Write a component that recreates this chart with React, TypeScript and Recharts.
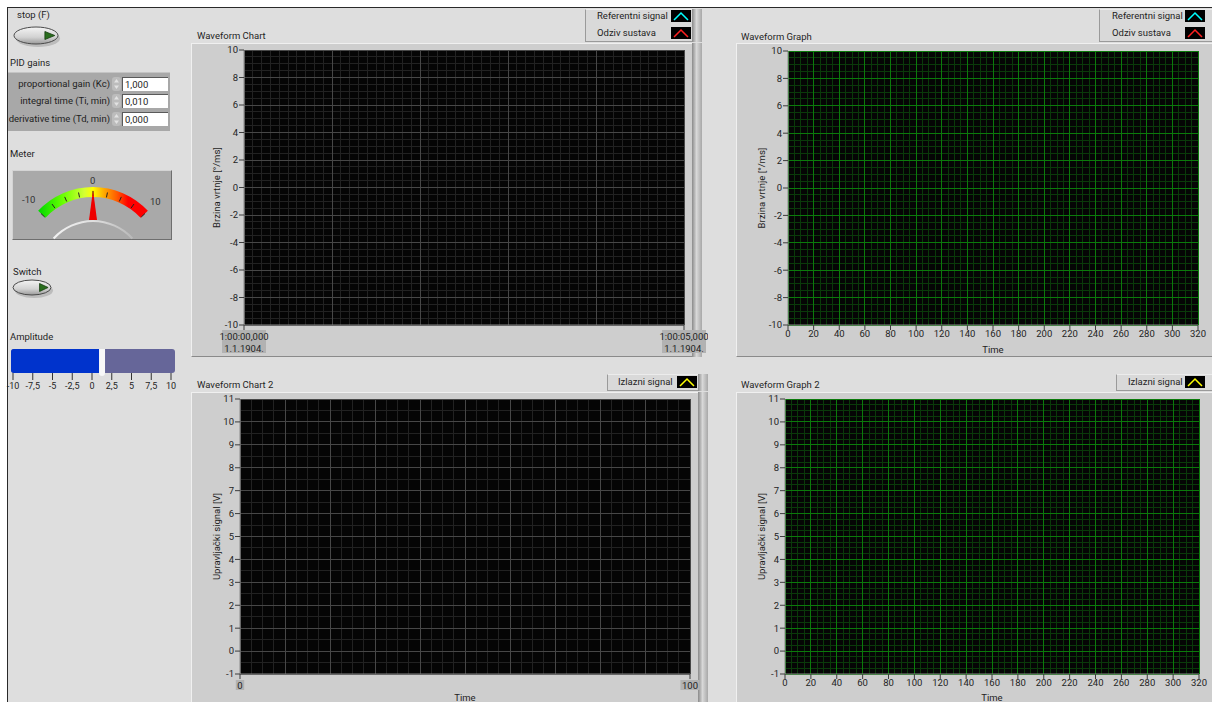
import React from 'react';
import {
  LineChart,
  Line,
  XAxis,
  YAxis,
  CartesianGrid,
  Legend,
  PieChart,
  Pie,
  BarChart,
  Bar,
  ReferenceLine,
} from 'recharts';

const FONT = 'Roboto, "Noto Sans", Arial, sans-serif';
const FS = 9.5;
const TEXT = '#1e1e1e';
const PANEL = '#dedede';
const FRAME = '#cecece';
const PLOT_BG = '#050505';
const AXIS = '#3c3c3c';

// ---- Waveform Chart (strip chart, 5 s window) ----
const chartTimeTicks = [0, 5];
const chartTimeLabels = [
  ['1:00:00,000', '1.1.1904.'],
  ['1:00:05,000', '1.1.1904.'],
];
const chartMajorTime = [0, 1, 2, 3, 4, 5];
const speedTicks = [-10, -8, -6, -4, -2, 0, 2, 4, 6, 8, 10];

// ---- Waveform Graph ----
const graphTimeTicks = [0, 20, 40, 60, 80, 100, 120, 140, 160, 180, 200, 220, 240, 260, 280, 300, 320];

// ---- Waveform Chart 2 ----
const chart2TimeTicks = [0, 100];
const chart2MajorTime = [0, 10, 20, 30, 40, 50, 60, 70, 80, 90, 100];
const voltTicks = [-1, 0, 1, 2, 3, 4, 5, 6, 7, 8, 9, 10, 11];

// ---- series: nothing acquired yet, all plots are empty ----
const referentniSignal: number[] = [];
const odzivSustava: number[] = [];
const izlazniSignal: number[] = [];
const referentniGraph: number[] = [];
const odzivGraph: number[] = [];
const izlazniGraph: number[] = [];

// ---- front panel controls ----
const pidLabels = ['proportional gain (Kc)', 'integral time (Ti, min)', 'derivative time (Td, min)'];
const pidValues = ['1,000', '0,010', '0,000'];
const meterMin = -10;
const meterMax = 10;
const meterValue = 0;
const meterTicks = [-10, -7.5, -5, -2.5, 0, 2.5, 5, 7.5, 10];
const amplitude = 1.1;
const sliderTicks = [-10, -7.5, -5, -2.5, 0, 2.5, 5, 7.5, 10];

const range = (a: number, b: number, step: number) => {
  const out: number[] = [];
  for (let v = a; v <= b + 1e-9; v += step) out.push(Math.round(v * 1000) / 1000);
  return out;
};

const buildRows = (times: number[], series: Record<string, number[]>) =>
  times.map((t, i) => {
    const row: any = { t };
    Object.keys(series).forEach((k) => {
      row[k] = series[k][i] ?? null;
    });
    return row;
  });

const comma = (v: number) => String(v).replace('.', ',');
const tickStyle = { fill: TEXT, fontSize: FS, fontFamily: FONT };

function Txt({ x, y, children, style }: any) {
  return (
    <div style={{ position: 'absolute', left: x, top: y - 6, lineHeight: '12px', whiteSpace: 'nowrap', ...style }}>
      {children}
    </div>
  );
}

const barGradient = 'linear-gradient(to right, #8a8a8a, #d8d8d8 45%, #a8a8a8)';

const makeLegend = (cfg: any) => (props: any) => {
  const items = props.payload ?? [];
  return (
    <div style={{ position: 'relative', width: cfg.width, height: cfg.height, fontFamily: FONT, fontSize: FS, color: TEXT }}>
      <div
        style={{
          position: 'absolute',
          left: 0,
          top: 0,
          width: cfg.width - (cfg.bar ? 10 : 0),
          height: cfg.height,
          background: '#d9d9d9',
          borderLeft: '1px solid #9a9a9a',
          borderBottom: '1px solid #9a9a9a',
          borderTop: '1px solid #ececec',
          boxSizing: 'border-box',
        }}
      />
      {cfg.bar && (
        <div style={{ position: 'absolute', left: cfg.width - 10, top: 0, width: 10, height: cfg.height, background: barGradient }} />
      )}
      {items.map((it: any, i: number) => (
        <React.Fragment key={it.value}>
          <div style={{ position: 'absolute', left: cfg.textX, top: cfg.rowTop + i * 17 - 6, lineHeight: '12px', whiteSpace: 'nowrap' }}>
            {it.value}
          </div>
          <svg style={{ position: 'absolute', left: cfg.swatchX, top: cfg.rowTop + i * 17 - 6 }} width={20} height={12}>
            <rect width={20} height={12} fill="#000" />
            <polyline points="3,10 10,3 17,10" stroke={it.color} fill="none" strokeWidth={1.5} />
          </svg>
        </React.Fragment>
      ))}
    </div>
  );
};

// two-line time stamp ticks of the strip chart
const StampTick = (props: any) => {
  const { x, y, payload } = props;
  const idx = chartTimeTicks.indexOf(payload.value);
  const lines = chartTimeLabels[idx] ?? ['', ''];
  return (
    <g>
      <rect x={x - 22} y={y - 1} width={44} height={23} fill="#b2b2b2" />
      <text x={x} y={y + 5} textAnchor="middle" dominantBaseline="central" fill={TEXT} fontSize={FS} fontFamily={FONT}>
        {lines[0]}
      </text>
      <text x={x} y={y + 17} textAnchor="middle" dominantBaseline="central" fill={TEXT} fontSize={FS} fontFamily={FONT}>
        {lines[1]}
      </text>
    </g>
  );
};

const BoxedTick = (props: any) => {
  const { x, y, payload } = props;
  const s = String(payload.value);
  const w = s.length * 5.4 + 3;
  return (
    <g>
      <rect x={x - w / 2} y={y} width={w} height={10} fill="#b2b2b2" />
      <text x={x} y={y + 5} textAnchor="middle" dominantBaseline="central" fill={TEXT} fontSize={FS} fontFamily={FONT}>
        {s}
      </text>
    </g>
  );
};

interface PlotProps {
  left: number;
  top: number;
  width: number;
  height: number;
  marginTop: number;
  marginRight: number;
  yAxisWidth: number;
  xAxisHeight: number;
  rows: any[];
  series: { key: string; name: string; color: string }[];
  xDomain: [number, number];
  xTicks: number[];
  xMajor: number[];
  xMinor: number[];
  yDomain: [number, number];
  yTicks: number[];
  yMinor: number[];
  majorColor: string;
  minorColor: string;
  xTick?: any;
  xLabel?: string;
  xLabelDy?: number;
  yLabel: string;
  yLabelDx: number;
  legend: any;
}

function WaveformPlot(p: PlotProps) {
  const yLabelContent = (props: any) => {
    const vb = props.viewBox;
    const cx = vb.x + p.yLabelDx;
    const cy = vb.y + vb.height / 2;
    return (
      <text x={cx} y={cy} transform={`rotate(-90 ${cx} ${cy})`} textAnchor="middle" dominantBaseline="central" fill={TEXT} fontSize={FS} fontFamily={FONT}>
        {p.yLabel}
      </text>
    );
  };
  const xLabelContent = (props: any) => {
    const vb = props.viewBox;
    return (
      <text x={vb.x + vb.width / 2} y={vb.y + (p.xLabelDy ?? 20)} textAnchor="middle" dominantBaseline="central" fill={TEXT} fontSize={FS} fontFamily={FONT}>
        {p.xLabel}
      </text>
    );
  };
  const names = p.series.map((s) => s.name);
  return (
    <div style={{ position: 'absolute', left: p.left, top: p.top }}>
      <LineChart width={p.width} height={p.height} data={p.rows} margin={{ top: p.marginTop, right: p.marginRight, bottom: 0, left: 0 }}>
        <XAxis xAxisId="minor" type="number" dataKey="t" domain={p.xDomain} allowDataOverflow ticks={p.xMinor} interval={0} hide />
        <XAxis xAxisId="major" type="number" dataKey="t" domain={p.xDomain} allowDataOverflow ticks={p.xMajor} interval={0} hide />
        <YAxis yAxisId="minor" type="number" domain={p.yDomain} allowDataOverflow ticks={p.yMinor} interval={0} hide />
        <CartesianGrid xAxisId="minor" yAxisId="minor" stroke={p.minorColor} fill={PLOT_BG} fillOpacity={1} />
        <CartesianGrid xAxisId="major" stroke={p.majorColor} />
        <XAxis
          type="number"
          dataKey="t"
          domain={p.xDomain}
          allowDataOverflow
          ticks={p.xTicks}
          interval={0}
          height={p.xAxisHeight}
          tickSize={5}
          tickMargin={p.xTick ? 1 : 0}
          tick={p.xTick ?? tickStyle}
          axisLine={{ stroke: '#8a8a8a' }}
          tickLine={{ stroke: AXIS }}
          label={p.xLabel ? xLabelContent : undefined}
        />
        <YAxis
          type="number"
          domain={p.yDomain}
          allowDataOverflow
          ticks={p.yTicks}
          interval={0}
          width={p.yAxisWidth}
          tickSize={5}
          tickMargin={1}
          tick={tickStyle}
          axisLine={{ stroke: '#8a8a8a' }}
          tickLine={{ stroke: AXIS }}
          label={yLabelContent}
        />
        {p.series.map((s) => (
          <Line key={s.key} dataKey={s.key} name={s.name} stroke={s.color} dot={false} isAnimationActive={false} />
        ))}
        <Legend
          layout="vertical"
          align="center"
          verticalAlign="middle"
          itemSorter={(item: any) => names.indexOf(item.value)}
          wrapperStyle={{ left: p.legend.left, top: p.legend.top, width: p.legend.width, height: p.legend.height }}
          content={makeLegend(p.legend)}
        />
      </LineChart>
    </div>
  );
}

function RoundButton({ x, y, rx, ry }: any) {
  const w = rx * 2 + 6;
  const h = ry * 2 + 6;
  return (
    <svg style={{ position: 'absolute', left: x, top: y }} width={w} height={h}>
      <defs>
        <linearGradient id={`btn${x}${y}`} x1="0" y1="0" x2="0" y2="1">
          <stop offset="0" stopColor="#f4f4f4" />
          <stop offset="0.6" stopColor="#d2d2d2" />
          <stop offset="1" stopColor="#9a9a9a" />
        </linearGradient>
      </defs>
      <ellipse cx={rx + 3} cy={ry + 4} rx={rx} ry={ry} fill="#9a9a9a" opacity={0.5} />
      <ellipse cx={rx + 1} cy={ry + 1} rx={rx} ry={ry} fill={`url(#btn${x}${y})`} stroke="#4a4a4a" strokeWidth={1} />
      <polygon
        points={`${rx * 1.45},${ry - 3} ${rx * 1.9},${ry + 1} ${rx * 1.45},${ry + 5}`}
        fill="#2a6e1e"
        stroke="#163d10"
        strokeWidth={0.8}
      />
    </svg>
  );
}

function Meter() {
  const cx = 81;
  const cy = 92;
  const start = 137;
  const end = 43;
  const ang = (v: number) => ((start - ((v - meterMin) / (meterMax - meterMin)) * (start - end)) * Math.PI) / 180;
  const a = ang(meterValue);
  const tip = { x: cx + 72 * Math.cos(a), y: cy - 72 * Math.sin(a) };
  const base = { x: cx + 42 * Math.cos(a), y: cy - 42 * Math.sin(a) };
  const px = Math.sin(a) * 4;
  const py = Math.cos(a) * 4;
  return (
    <>
      <div
        style={{
          position: 'absolute',
          left: 12,
          top: 170,
          width: 160,
          height: 70,
          background: '#a9a9a9',
          borderTop: '1px solid #d4d4d4',
          borderLeft: '1px solid #d4d4d4',
          borderRight: '1px solid #6e6e6e',
          borderBottom: '1px solid #6e6e6e',
          boxSizing: 'border-box',
        }}
      />
      <div style={{ position: 'absolute', left: 12, top: 170 }}>
        <PieChart width={160} height={70} margin={{ top: 0, right: 0, bottom: 0, left: 0 }}>
          <defs>
            <linearGradient id="meterGrad" x1="0" y1="0" x2="1" y2="0">
              <stop offset="0" stopColor="#00d800" />
              <stop offset="0.22" stopColor="#66ff00" />
              <stop offset="0.42" stopColor="#d4ff33" />
              <stop offset="0.5" stopColor="#ffff00" />
              <stop offset="0.6" stopColor="#ffaa00" />
              <stop offset="0.72" stopColor="#ff5a00" />
              <stop offset="0.82" stopColor="#ff0000" />
              <stop offset="1" stopColor="#ff0000" />
            </linearGradient>
            <linearGradient id="glassGrad" x1="0" y1="0" x2="1" y2="0">
              <stop offset="0" stopColor="#f2f2f2" />
              <stop offset="0.5" stopColor="#e0e0e0" />
              <stop offset="1" stopColor="#b8b8b8" />
            </linearGradient>
          </defs>
          <Pie
            data={[{ v: 1 }]}
            dataKey="v"
            cx={cx}
            cy={cy}
            startAngle={start}
            endAngle={end}
            innerRadius={65}
            outerRadius={75}
            fill="url(#meterGrad)"
            stroke="none"
            isAnimationActive={false}
          />
          <Pie
            data={[{ v: 1 }]}
            dataKey="v"
            cx={cx}
            cy={cy + 12}
            startAngle={138}
            endAngle={42}
            innerRadius={52}
            outerRadius={54}
            fill="url(#glassGrad)"
            stroke="none"
            isAnimationActive={false}
          />
        </PieChart>
      </div>
      <svg style={{ position: 'absolute', left: 12, top: 170 }} width={160} height={70}>
        {meterTicks.map((t) => {
          const ta = ang(t);
          return (
            <line
              key={t}
              x1={cx + 66 * Math.cos(ta)}
              y1={cy - 66 * Math.sin(ta)}
              x2={cx + 71 * Math.cos(ta)}
              y2={cy - 71 * Math.sin(ta)}
              stroke="#222"
              strokeWidth={1}
            />
          );
        })}
        <polygon points={`${tip.x},${tip.y} ${base.x + px},${base.y + py} ${base.x - px},${base.y - py}`} fill="#ee0000" />
      </svg>
      <Txt x={22} y={200} style={{ color: '#333' }}>-10</Txt>
      <Txt x={90} y={181} style={{ color: '#333' }}>0</Txt>
      <Txt x={150} y={202} style={{ color: '#333' }}>10</Txt>
    </>
  );
}

function AmplitudeSlider() {
  const data = [{ name: 'Amplitude', range: [sliderTicks[0], amplitude] }];
  return (
    <div style={{ position: 'absolute', left: 0, top: 349 }}>
      <BarChart width={185} height={50} data={data} layout="vertical" barCategoryGap={0} margin={{ top: 0, right: 10, bottom: 0, left: 11 }}>
        <XAxis xAxisId="track" type="number" domain={[-10, 10]} allowDataOverflow hide />
        <XAxis
          type="number"
          domain={[-10, 10]}
          allowDataOverflow
          ticks={sliderTicks}
          interval={0}
          padding={{ left: 2, right: 4 }}
          tickFormatter={comma}
          axisLine={false}
          tickSize={7}
          tickMargin={3}
          height={26}
          tick={{ fill: TEXT, fontSize: 9, fontFamily: FONT }}
          tickLine={{ stroke: '#333' }}
        />
        <YAxis type="category" dataKey="name" hide />
        <Bar
          xAxisId="track"
          dataKey="range"
          fill="#0033cc"
          background={{ fill: '#666699', radius: 3 } as any}
          radius={[3, 0, 0, 3]}
          isAnimationActive={false}
        />
        <ReferenceLine xAxisId="track" x={amplitude} stroke="#f8f8f8" strokeWidth={6} strokeLinecap="round" />
      </BarChart>
    </div>
  );
}

export default function App() {
  const chartRows = buildRows(chartTimeTicks, { ref: referentniSignal, odziv: odzivSustava });
  const graphRows = buildRows(graphTimeTicks, { ref: referentniGraph, odziv: odzivGraph });
  const chart2Rows = buildRows(chart2TimeTicks, { izlaz: izlazniSignal });
  const graph2Rows = buildRows(graphTimeTicks, { izlaz: izlazniGraph });

  const twoSeries = [
    { key: 'ref', name: 'Referentni signal', color: '#00ffff' },
    { key: 'odziv', name: 'Odziv sustava', color: '#ff2020' },
  ];
  const oneSeries = [{ key: 'izlaz', name: 'Izlazni signal', color: '#ffff00' }];

  const grayMajor = '#474747';
  const grayMinor = '#222222';
  const greenMajor = '#0b7a0b';
  const greenMinor = '#0a3a0a';

  return (
    <div
      style={{
        position: 'fixed',
        left: 0,
        top: 0,
        width: 1212,
        height: 702,
        background: '#fff',
        overflow: 'hidden',
        fontFamily: FONT,
        fontSize: FS,
        color: TEXT,
      }}
    >
      <style>{'.recharts-cartesian-grid line { shape-rendering: crispEdges; }'}</style>
      <div
        style={{
          position: 'absolute',
          left: 7,
          top: 7,
          width: 1205,
          height: 695,
          background: PANEL,
          borderTop: '1px solid #2a2a2a',
          borderLeft: '1px solid #2a2a2a',
          boxSizing: 'border-box',
        }}
      />

      {/* left column controls */}
      <Txt x={17} y={15}>stop (F)</Txt>
      <RoundButton x={13} y={26} rx={22} ry={8.5} />
      <Txt x={10} y={63}>PID gains</Txt>
      <div style={{ position: 'absolute', left: 8, top: 72, width: 162, height: 58, background: '#a8a8a8', borderTop: '1px solid #c4c4c4' }} />
      {pidLabels.map((label, i) => {
        const top = [77, 94, 112][i];
        return (
          <React.Fragment key={label}>
            <div style={{ position: 'absolute', left: 8, top: top + 1, width: 102, textAlign: 'right', lineHeight: '12px', whiteSpace: 'nowrap' }}>
              {label}
            </div>
            <svg style={{ position: 'absolute', left: 112, top }} width={9} height={14}>
              <rect x={0} y={0} width={9} height={14} rx={3} fill="#bcbcbc" />
              <polygon points="4.5,2 7,5.5 2,5.5" fill="#e2e2e2" />
              <polygon points="4.5,12 7,8.5 2,8.5" fill="#e2e2e2" />
            </svg>
            <div
              style={{
                position: 'absolute',
                left: 122,
                top,
                width: 46,
                height: 14,
                background: '#fff',
                borderTop: '1px solid #5a5a5a',
                borderLeft: '1px solid #5a5a5a',
                boxSizing: 'border-box',
                paddingLeft: 2,
                lineHeight: '13px',
              }}
            >
              {pidValues[i]}
            </div>
          </React.Fragment>
        );
      })}

      <Txt x={10} y={154}>Meter</Txt>
      <Meter />

      <Txt x={13} y={272}>Switch</Txt>
      <RoundButton x={12} y={279} rx={19} ry={7.5} />

      <Txt x={10} y={337}>Amplitude</Txt>
      <AmplitudeSlider />

      {/* frames */}
      <div style={{ position: 'absolute', left: 191, top: 43, width: 501, height: 314, background: FRAME, borderLeft: '1px solid #f0f0f0', borderTop: '1px solid #f0f0f0', borderBottom: '1px solid #8a8a8a', boxSizing: 'border-box' }} />
      <div style={{ position: 'absolute', left: 692, top: 43, width: 10, height: 314, background: barGradient }} />
      <div style={{ position: 'absolute', left: 736, top: 43, width: 476, height: 314, background: FRAME, borderLeft: '1px solid #f0f0f0', borderTop: '1px solid #f0f0f0', borderBottom: '1px solid #8a8a8a', boxSizing: 'border-box' }} />
      <div style={{ position: 'absolute', left: 191, top: 392, width: 507, height: 310, background: FRAME, borderLeft: '1px solid #f0f0f0', borderTop: '1px solid #f0f0f0', boxSizing: 'border-box' }} />
      <div style={{ position: 'absolute', left: 698, top: 392, width: 10, height: 310, background: barGradient }} />
      <div style={{ position: 'absolute', left: 736, top: 392, width: 476, height: 310, background: FRAME, borderLeft: '1px solid #f0f0f0', borderTop: '1px solid #f0f0f0', boxSizing: 'border-box' }} />

      <Txt x={197} y={36}>Waveform Chart</Txt>
      <Txt x={741} y={37}>Waveform Graph</Txt>
      <Txt x={197} y={385}>Waveform Chart 2</Txt>
      <Txt x={741} y={385}>Waveform Graph 2</Txt>

      <WaveformPlot
        left={192}
        top={44}
        width={516}
        height={313}
        marginTop={6}
        marginRight={24}
        yAxisWidth={52}
        xAxisHeight={32}
        rows={chartRows}
        series={twoSeries}
        xDomain={[0, 5]}
        xTicks={chartTimeTicks}
        xMajor={chartMajorTime}
        xMinor={range(0, 5, 0.1)}
        yDomain={[-10, 10]}
        yTicks={speedTicks}
        yMinor={range(-10, 10, 0.5)}
        majorColor={grayMajor}
        minorColor={grayMinor}
        xTick={<StampTick />}
        yLabel="Brzina vrtnje [°/ms]"
        yLabelDx={24}
        legend={{ left: 393, top: -35, width: 117, height: 33, textX: 12, swatchX: 86, rowTop: 7, bar: true }}
      />

      <WaveformPlot
        left={736}
        top={44}
        width={476}
        height={313}
        marginTop={7}
        marginRight={14}
        yAxisWidth={52}
        xAxisHeight={32}
        rows={graphRows}
        series={twoSeries}
        xDomain={[0, 320]}
        xTicks={graphTimeTicks}
        xMajor={graphTimeTicks}
        xMinor={range(0, 320, 5)}
        yDomain={[-10, 10]}
        yTicks={speedTicks}
        yMinor={range(-10, 10, 0.5)}
        majorColor={greenMajor}
        minorColor={greenMinor}
        xLabel="Time"
        xLabelDy={24}
        yLabel="Brzina vrtnje [°/ms]"
        yLabelDx={25}
        legend={{ left: 363, top: -35, width: 113, height: 33, textX: 13, swatchX: 86, rowTop: 7, bar: false }}
      />

      <WaveformPlot
        left={191}
        top={392}
        width={509}
        height={310}
        marginTop={7}
        marginRight={10}
        yAxisWidth={49}
        xAxisHeight={28}
        rows={chart2Rows}
        series={oneSeries}
        xDomain={[0, 100]}
        xTicks={chart2TimeTicks}
        xMajor={chart2MajorTime}
        xMinor={range(0, 100, 2.5)}
        yDomain={[-1, 11]}
        yTicks={voltTicks}
        yMinor={range(-1, 11, 0.5)}
        majorColor={grayMajor}
        minorColor={grayMinor}
        xTick={<BoxedTick />}
        xLabel="Time"
        xLabelDy={23}
        yLabel="Upravljački signal [V]"
        yLabelDx={25}
        legend={{ left: 416, top: -18, width: 101, height: 17, textX: 11, swatchX: 70, rowTop: 8, bar: true }}
      />

      <WaveformPlot
        left={736}
        top={392}
        width={476}
        height={310}
        marginTop={7}
        marginRight={13}
        yAxisWidth={49}
        xAxisHeight={28}
        rows={graph2Rows}
        series={oneSeries}
        xDomain={[0, 320]}
        xTicks={graphTimeTicks}
        xMajor={graphTimeTicks}
        xMinor={range(0, 320, 5)}
        yDomain={[-1, 11]}
        yTicks={voltTicks}
        yMinor={range(-1, 11, 0.25)}
        majorColor={greenMajor}
        minorColor={greenMinor}
        xLabel="Time"
        xLabelDy={23}
        yLabel="Upravljački signal [V]"
        yLabelDx={25}
        legend={{ left: 380, top: -18, width: 96, height: 17, textX: 12, swatchX: 69, rowTop: 8, bar: false }}
      />
    </div>
  );
}
